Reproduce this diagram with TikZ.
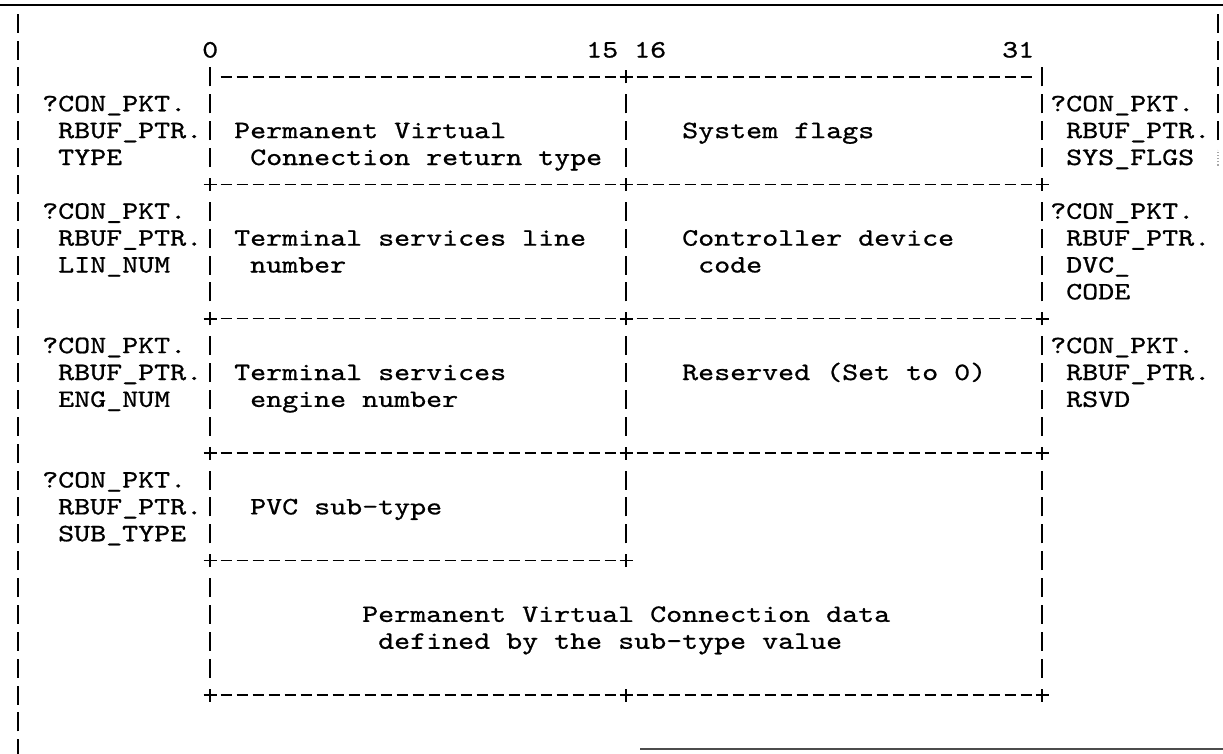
\documentclass[tikz,border=0pt]{standalone}
\usepackage{fontspec}
% typewriter face widened to a 16pt character pitch
\newfontfamily\mono{lmmono10-regular.otf}[FakeStretch=1.219, FakeBold=0.8]
\begin{document}
\begin{tikzpicture}[
  glyph/.style={line width=1.6pt, line cap=butt},
  dashrule/.style={line width=1.4pt, dash pattern=on 11pt off 5pt},
  lbl/.style={font=\mono\fontsize{25}{30}\selectfont, anchor=base west,
              inner sep=0pt, yshift=-7.5pt},
  pics/vbar/.style={code={\draw[glyph] (0,-9.5pt) -- (0,9.5pt);}},
  pics/cross/.style={code={\draw[glyph] (-6.5pt,0) -- (6.5pt,0) (0,-6.5pt) -- (0,6.5pt);}},
]
\useasboundingbox (0,0) rectangle (1223pt,-753pt);
% page rules
\draw[line width=2.2pt] (0,-5pt) -- (1223pt,-5pt);
\draw[line width=1.8pt, black!70] (640pt,-749pt) -- (1223pt,-749pt);

% character grid: x = column, y = text line
\begin{scope}[x=16pt, y=-26.875pt, shift={(18pt,3.75pt)}]
  % outer frame bars
  \foreach \n in {1,...,28} \pic at (0,\n) {vbar};
  \foreach \n in {1,...,5} \pic at (75,\n) {vbar};
  \draw[line width=1.2pt, black!35, dotted] (75,6) ++(0,-8pt) -- ++(0,16pt);

  % record columns
  \foreach \n in {3,4,5,6,8,9,10,11,13,14,15,16,18,19,20,22,23,24,25}
    \pic at (12,\n) {vbar};
  \foreach \n in {4,5,6,8,9,10,11,13,14,15,16,18,19,20}
    \pic at (38,\n) {vbar};
  \foreach \n in {3,4,5,6,8,9,10,11,13,14,15,16,18,19,20,21,22,23,24,25}
    \pic at (64,\n) {vbar};

  % junctions
  \foreach \n in {7,12,17,21,26} \pic at (12,\n) {cross};
  \foreach \n in {3,7,12,17,21,26} \pic at (38,\n) {cross};
  \foreach \n in {7,12,17,26} \pic at (64,\n) {cross};

  % dashed rules
  \foreach \n in {3,7,12,17,21,26}
    \draw[dashrule] (12.5,\n) ++(2.5pt,0) -- (37.5,\n);
  \foreach \n in {3,7,12,17,26}
    \draw[dashrule] (38.5,\n) ++(2.5pt,0) -- (63.5,\n);

  % bit numbers
  \node[lbl] (b0)  at (11.5,2) {0};
  \node[lbl] (b15) at (35.5,2) {15};
  \node[lbl] (b16) at (38.5,2) {16};
  \node[lbl] (b31) at (61.5,2) {31};

  % left field names
  \node[lbl] (la1) at (1.5,4) {?CON\_PKT.};
  \node[lbl] (la2) at (2.5,5) {RBUF\_PTR.};
  \node[lbl] (la3) at (2.5,6) {TYPE};
  \node[lbl] (lb1) at (1.5,8) {?CON\_PKT.};
  \node[lbl] (lb2) at (2.5,9) {RBUF\_PTR.};
  \node[lbl] (lb3) at (2.5,10) {LIN\_NUM};
  \node[lbl] (lc1) at (1.5,13) {?CON\_PKT.};
  \node[lbl] (lc2) at (2.5,14) {RBUF\_PTR.};
  \node[lbl] (lc3) at (2.5,15) {ENG\_NUM};
  \node[lbl] (ld1) at (1.5,18) {?CON\_PKT.};
  \node[lbl] (ld2) at (2.5,19) {RBUF\_PTR.};
  \node[lbl] (ld3) at (2.5,20) {SUB\_TYPE};

  % right field names
  \node[lbl] (ra1) at (64.5,4) {?CON\_PKT.};
  \node[lbl] (ra2) at (65.5,5) {RBUF\_PTR.};
  \node[lbl] (ra3) at (65.5,6) {SYS\_FLGS};
  \node[lbl] (rb1) at (64.5,8) {?CON\_PKT.};
  \node[lbl] (rb2) at (65.5,9) {RBUF\_PTR.};
  \node[lbl] (rb3) at (65.5,10) {DVC\_};
  \node[lbl] (rb4) at (65.5,11) {CODE};
  \node[lbl] (rc1) at (64.5,13) {?CON\_PKT.};
  \node[lbl] (rc2) at (65.5,14) {RBUF\_PTR.};
  \node[lbl] (rc3) at (65.5,15) {RSVD};

  % field contents
  \node[lbl] (f1a) at (13.5,5) {Permanent Virtual};
  \node[lbl] (f1b) at (14.5,6) {Connection return type};
  \node[lbl] (f2)  at (41.5,5) {System flags};
  \node[lbl] (f3a) at (13.5,9) {Terminal services line};
  \node[lbl] (f3b) at (14.5,10) {number};
  \node[lbl] (f4a) at (41.5,9) {Controller device};
  \node[lbl] (f4b) at (42.5,10) {code};
  \node[lbl] (f5a) at (13.5,14) {Terminal services};
  \node[lbl] (f5b) at (14.5,15) {engine number};
  \node[lbl] (f6)  at (41.5,14) {Reserved (Set to 0)};
  \node[lbl] (f7)  at (14.5,19) {PVC sub-type};
  \node[lbl] (f8a) at (21.5,23) {Permanent Virtual Connection data};
  \node[lbl] (f8b) at (22.5,24) {defined by the sub-type value};
\end{scope}
\end{tikzpicture}
\end{document}
